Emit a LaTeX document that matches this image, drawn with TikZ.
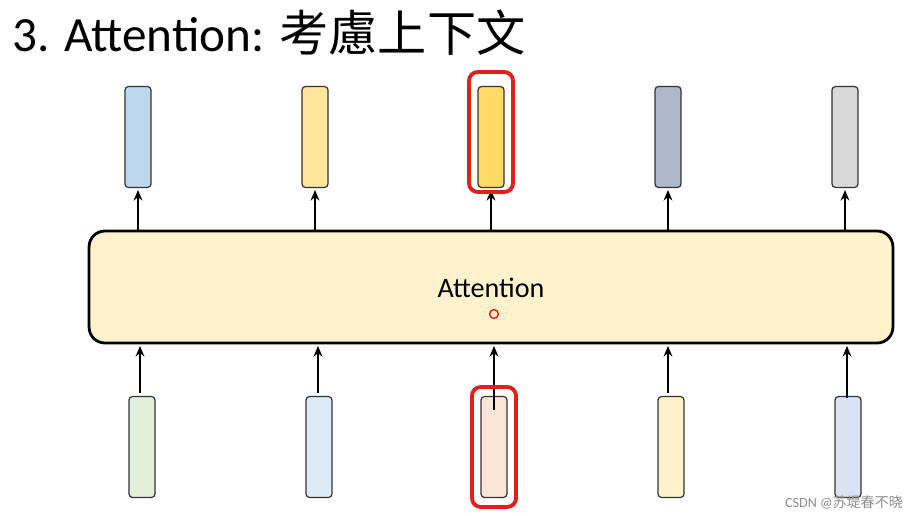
\documentclass[tikz,border=0pt]{standalone}
\usepackage{fontspec}
\setmainfont{Carlito}
\newfontfamily\cjk{Noto Sans CJK TC}
\newfontfamily\cjksc{Noto Sans CJK SC}
\usetikzlibrary{arrows.meta}
\definecolor{redo}{HTML}{E0201B}
\tikzset{
 vec/.style={draw=black!80,line width=0.7pt,rounded corners=2pt,minimum width=0.52cm,minimum height=2.02cm,inner sep=0},
 hl/.style={draw=redo,line width=2.2pt,rounded corners=5pt,minimum width=0.88cm,minimum height=2.4cm,inner sep=0},
 arr/.style={-{Stealth[length=6pt,width=5pt]},line width=1.3pt}
}
\begin{document}
\begin{tikzpicture}[x=0.02cm,y=-0.02cm]
\useasboundingbox (0,0) rectangle (909,516);
\node[anchor=base west,inner sep=0,font=\fontsize{28}{30}\selectfont] (title) at (12,52) {3. Attention: {\cjk 考慮上下文}};
\node[draw=black,line width=1.6pt,fill={rgb,255:red,255;green,242;blue,204},rounded corners=9pt,minimum width=16.08cm,minimum height=2.24cm,inner sep=0] (att) at (491,287) {};
\node[font=\fontsize{16}{18}\selectfont] (atxt) at (491,288) {Attention};
\node[draw=redo,line width=0.8pt,circle,minimum size=5pt,inner sep=0] (dot) at (494,314) {};
% top vectors
\foreach \x/\c/\n in {138/BDD7EE/t1,315/FFE699/t2,491/FFD966/t3,668/ADB9CA/t4,845/D9D9D9/t5}{
  \definecolor{tmp}{HTML}{\c}
  \node[vec,fill=tmp] (\n) at (\x,137) {};
  \coordinate (\n a) at (\x,231);
  \draw[arr] (\n a) -- (\x,190);
}
\node[hl] (h1) at (491,132) {};
% bottom vectors
\foreach \x/\c/\n in {142/E2EFDA/b1,319/DDEBF7/b2,494/FBE5D6/b3,671/FFF2CC/b4,848/DAE3F3/b5}{
  \definecolor{tmp}{HTML}{\c}
  \node[vec,fill=tmp] (\n) at (\x,447) {};
}
\foreach \x/\s in {140/393,318/393,494/410,668/393,847/398}{
  \coordinate (s) at (\x,\s);
  \draw[arr] (s) -- (\x,346);
}
\node[hl] (h2) at (494,447) {};
\node[anchor=south east,text=black!45,font=\fontsize{8}{9}\selectfont,inner sep=1pt] (wm) at (905,511) {CSDN @{\cjksc 苏堤春不晓}};
\end{tikzpicture}
\end{document}
